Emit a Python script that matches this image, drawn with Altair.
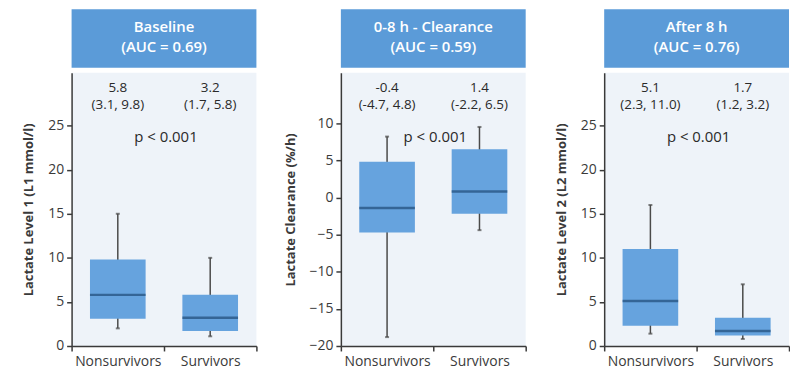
import altair as alt
import pandas as pd

groups = ["Nonsurvivors", "Survivors"]

panel_titles_1 = ["Baseline", "0-8 h - Clearance", "After 8 h"]
panel_titles_2 = ["(AUC = 0.69)", "(AUC = 0.59)", "(AUC = 0.76)"]
y_titles = ["Lactate Level 1 (L1 mmol/l)", "Lactate Clearance (%/h)", "Lactate Level 2 (L2 mmol/l)"]

# box statistics per panel: [Nonsurvivors, Survivors]
lower = [[2.0, 1.1], [-18.8, -4.4], [1.4, 0.8]]
q1 = [[3.1, 1.7], [-4.7, -2.2], [2.3, 1.2]]
median = [[5.8, 3.2], [-1.4, 0.8], [5.1, 1.7]]
q3 = [[9.8, 5.8], [4.8, 6.5], [11.0, 3.2]]
upper = [[15.0, 10.0], [8.2, 9.5], [16.0, 7.0]]

label_median = [["5.8", "3.2"], ["-0.4", "1.4"], ["5.1", "1.7"]]
label_iqr = [["(3.1, 9.8)", "(1.7, 5.8)"], ["(-4.7, 4.8)", "(-2.2, 6.5)"], ["(2.3, 11.0)", "(1.2, 3.2)"]]
p_text = ["p < 0.001", "p < 0.001", "p < 0.001"]

y_domains = [[0, 31], [-20, 16.8], [0, 31]]
y_ticks = [[0, 5, 10, 15, 20, 25], [-20, -15, -10, -5, 0, 5, 10], [0, 5, 10, 15, 20, 25]]

HDR = "#5b9bd8"
BOX = "#66a3de"
MED = "#1f4a78"
WHISK = "#4a4a4a"
AXC = "#3a3a3a"
TXT = "#2a2a2a"
FONT = "Open Sans"

W = 186
H = 275
BOXW = 56


def panel(i):
    df = pd.DataFrame({
        "group": groups,
        "lower": lower[i],
        "q1": q1[i],
        "median": median[i],
        "q3": q3[i],
        "upper": upper[i],
        "lm": label_median[i],
        "li": label_iqr[i],
    })
    hdr = pd.DataFrame({"t1": [panel_titles_1[i]], "t2": [panel_titles_2[i]], "p": [p_text[i]]})
    xs = alt.Scale(type="band", paddingInner=0, paddingOuter=0)
    x = alt.X("group:N", scale=xs, sort=groups,
              axis=alt.Axis(title=None, labelAngle=0, tickBand="extent", labelFontSize=14,
                            labelColor=AXC, domainColor=AXC, tickColor=AXC, tickSize=5,
                            labelPadding=4, labelFont=FONT, domainWidth=1.5, tickWidth=1.5))
    ys = alt.Scale(domain=y_domains[i], nice=False, zero=False)
    yax = alt.Axis(title=y_titles[i], values=y_ticks[i], grid=False, tickSize=5, labelFontSize=14,
                   labelColor=AXC, domainColor=AXC, tickColor=AXC, labelPadding=3, titlePadding=12,
                   titleFontSize=13, titleFontWeight="bold", titleColor=AXC, labelFont=FONT, titleFont=FONT,
                   domainWidth=1.5, tickWidth=1.5)
    xx = alt.X("group:N", scale=xs, sort=groups)
    base = alt.Chart(df)
    whisker = base.mark_rule(color=WHISK, strokeWidth=1.5).encode(
        x=x, y=alt.Y("lower:Q", scale=ys, axis=yax), y2="upper:Q")
    cap_lo = base.mark_tick(color=WHISK, size=4, thickness=2).encode(x=xx, y="lower:Q")
    cap_hi = base.mark_tick(color=WHISK, size=4, thickness=2).encode(x=xx, y="upper:Q")
    box = base.mark_bar(size=BOXW, color=BOX).encode(x=xx, y="q1:Q", y2="q3:Q")
    med = base.mark_tick(size=BOXW, thickness=2.5, color=MED).encode(x=xx, y="median:Q")
    t_med = base.mark_text(fontSize=13.5, font=FONT, color=TXT).encode(
        x=xx, y=alt.value(15), text="lm:N")
    t_iqr = base.mark_text(fontSize=13.5, font=FONT, color=TXT).encode(
        x=xx, y=alt.value(32), text="li:N")
    hb = alt.Chart(hdr)
    h_rect = hb.mark_rect(color=HDR).encode(x=alt.value(0), x2=alt.value(W), y=alt.value(-64), y2=alt.value(-5))
    h_t1 = hb.mark_text(color="white", fontSize=15, font=FONT, fontWeight=600).encode(
        x=alt.value(W / 2), y=alt.value(-46), text="t1:N")
    h_t2 = hb.mark_text(color="white", fontSize=15, font=FONT, fontWeight=600).encode(
        x=alt.value(W / 2), y=alt.value(-26), text="t2:N")
    p = hb.mark_text(fontSize=15, font=FONT, color=TXT).encode(
        x=alt.value(W / 2 + 2), y=alt.value(65), text="p:N")
    return alt.layer(whisker, cap_lo, cap_hi, box, med, t_med, t_iqr, p, h_rect, h_t1, h_t2).properties(
        width=W, height=H)


left_pair = alt.hconcat(panel(0), panel(1), spacing=26)
chart = alt.hconcat(left_pair, panel(2), spacing=28).properties(
    padding={"left": 14, "top": 0, "right": 0, "bottom": 0}
).configure_view(fill="#eef3f9", stroke=None)

chart.save("out.html", embed_options={"renderer": "svg", "actions": False})
